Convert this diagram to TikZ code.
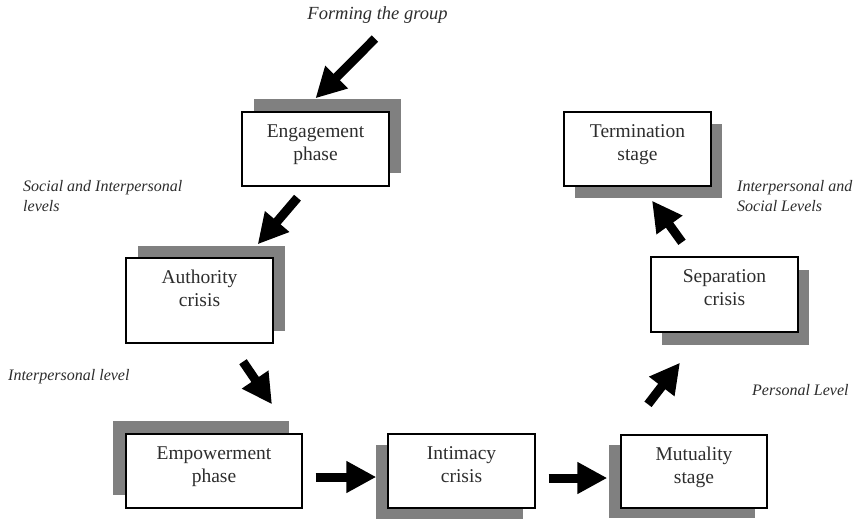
\documentclass[tikz,border=0pt]{standalone}
\usepackage{fontspec}
\setmainfont{Liberation Serif}
\usetikzlibrary{arrows.meta,shadows}
\definecolor{shadowgray}{RGB}{128,128,128}
\definecolor{txt}{RGB}{45,45,45}
\newcommand{\bxt}[3]{\parbox[c][#1][t]{#2}{\centering\rule{0pt}{25pt}#3}}
\begin{document}
\begin{tikzpicture}[x=1pt,y=-1pt,
  stage/.style={draw=black, line width=1.4pt, fill=white, inner sep=0pt,
    font=\fontsize{19.5}{23.5}\selectfont, text=txt},
  shd/.style 2 args={drop shadow={shadow xshift=#1pt, shadow yshift=#2pt, fill=shadowgray, opacity=1}},
  lbl/.style={font=\fontsize{16}{20}\selectfont\itshape, text=txt, inner sep=0pt, align=left},
  bigarrow/.style={line width=9pt, -{Triangle[length=30pt,width=30pt]}, black}
]
\useasboundingbox (0,0) rectangle (858,520);
\fill[white] (0,0) rectangle (858,520);

% labels
\node[lbl, font=\fontsize{18.5}{22}\selectfont\itshape] (form) at (377.5,15) {Forming the group};
\node[lbl, anchor=west] (soc) at (23,196) {Social and Interpersonal\\levels};
\node[lbl, anchor=west] (ilev) at (8,377) {Interpersonal level};
\node[lbl, anchor=west] (plev) at (752,390) {Personal Level};
\node[lbl, anchor=west] (isoc) at (737,196) {Interpersonal and\\Social Levels};

% stages
\node[stage, shd={12}{13}] (eng) at (315.5,149) {\bxt{74pt}{147pt}{Engagement\\phase}};
\node[stage, shd={12}{12}] (auth) at (199.5,300.5) {\bxt{85pt}{147pt}{Authority\\crisis}};
\node[stage, shd={-13}{13}] (emp) at (214,471) {\bxt{74pt}{176pt}{Empowerment\\phase}};
\node[stage, shd={-12}{-11}] (int) at (461.5,471) {\bxt{74pt}{147pt}{Intimacy\\crisis}};
\node[stage, shd={-12}{-10}] (mut) at (694,471.5) {\bxt{73pt}{146pt}{Mutuality\\stage}};
\node[stage, shd={11}{-13}] (sep) at (724.5,294.5) {\bxt{75pt}{147pt}{Separation\\crisis}};
\node[stage, shd={11}{-12}] (ter) at (637.5,149) {\bxt{74pt}{147pt}{Termination\\stage}};

% arrows
\draw[bigarrow] ([shift={(-2.5,15)}]form.south) -- ([shift={(0,-13)}]eng.north);
\draw[bigarrow] ([shift={(-18,11)}]eng.south) -- ([shift={(-16,-13)}]auth.north east);
\draw[bigarrow] ([shift={(43.5,18)}]auth.south) -- ([shift={(58,-29)}]emp.north);
\draw[bigarrow] ([shift={(13,6)}]emp.east) -- ([shift={(-11,6)}]int.west);
\draw[bigarrow] ([shift={(13,7)}]int.east) -- ([shift={(-13,6.5)}]mut.west);
\draw[bigarrow] ([shift={(-46,-30)}]mut.north) -- ([shift={(-44.5,30)}]sep.south);
\draw[bigarrow] ([shift={(-42.5,-14)}]sep.north) -- ([shift={(14.5,14)}]ter.south);
\end{tikzpicture}
\end{document}
